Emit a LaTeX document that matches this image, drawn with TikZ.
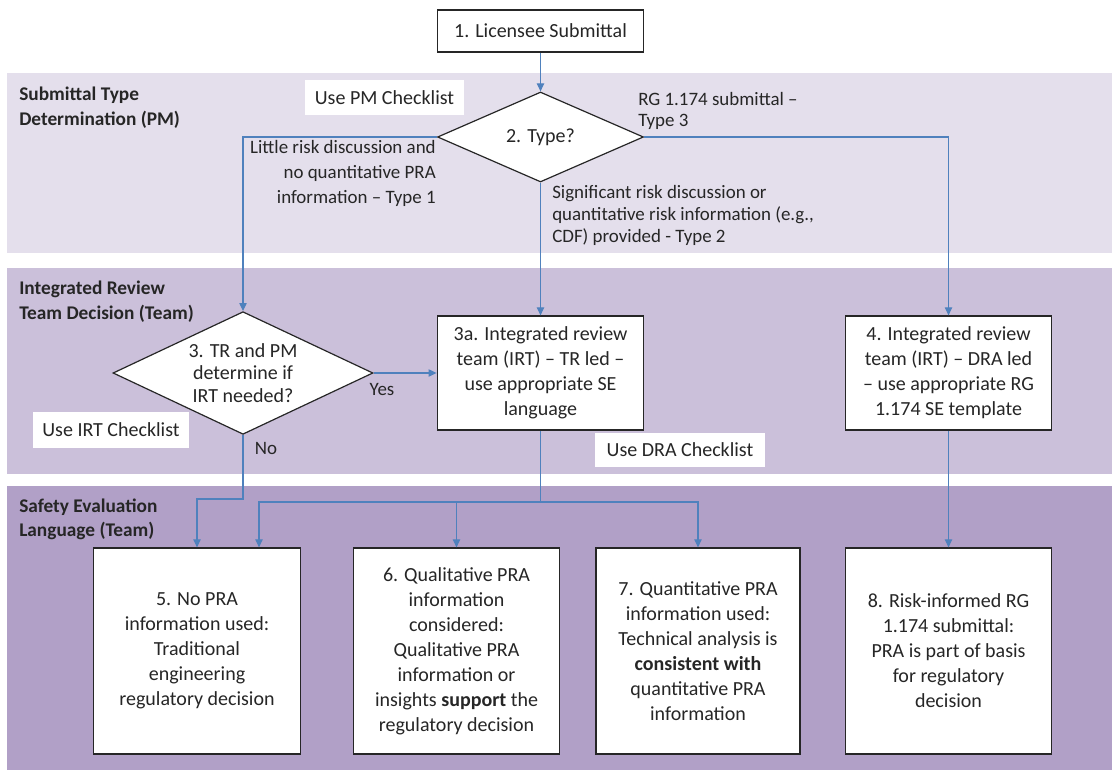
\documentclass[tikz,border=0pt]{standalone}
\usepackage{fontspec}
\setmainfont{Carlito}
\usetikzlibrary{shapes.geometric, arrows.meta, positioning}

\definecolor{laneA}{HTML}{E4DFEC}
\definecolor{laneB}{HTML}{CBC0DA}
\definecolor{laneC}{HTML}{B1A0C7}
\definecolor{flowblue}{HTML}{4F81BD}
\definecolor{ink}{HTML}{262626}

\begin{document}
\begin{tikzpicture}[x=0.75pt, y=-0.75pt,
    every node/.style={font=\fontsize{15}{18.75}\selectfont, text=ink},
    box/.style={draw=ink, line width=0.9pt, fill=white, align=center, inner sep=0pt, minimum width=155pt},
    decision/.style={diamond, draw=ink, line width=0.9pt, fill=white, align=center, inner sep=0pt, aspect=2},
    note/.style={fill=white, inner sep=0pt},
    branch/.style={font=\fontsize{14.2}{18.75}\selectfont, inner sep=0pt},
    lane/.style={font=\fontsize{14.5}{18.5}\selectfont\bfseries, align=left, anchor=west, inner sep=0pt},
    flow/.style={draw=flowblue, line width=0.8pt, -{Triangle[length=6pt, width=5.5pt]}}]

    \useasboundingbox (0,0) rectangle (1112,773);

    % Swim lanes
    \fill[laneA] (7,73) rectangle (1112,253);
    \fill[laneB] (7,268) rectangle (1112,474);
    \fill[laneC] (7,486) rectangle (1112,770);
    \node[lane] (lblA) at (19,107.5) {Submittal Type\\Determination (PM)};
    \node[lane] (lblB) at (19,301.5) {Integrated Review\\Team Decision (Team)};
    \node[lane] (lblC) at (19,519.5) {Safety Evaluation\\Language (Team)};

    % Submittal and type decision
    \node[box, minimum height=31.5pt] (sub) at (540.5,31) {1. Licensee Submittal};
    \node[decision, minimum width=154.5pt, minimum height=67.5pt] (type) at (540.5,137) {2. Type?};
    \node[note, minimum width=119pt, minimum height=26pt] (pmcheck) at (384.5,97.5) {Use PM Checklist};

    % Integrated review team decision
    \node[decision, minimum width=195pt, minimum height=92pt, font=\fontsize{15}{17}\selectfont] (irt) at (243,373) {3. TR and PM\\determine if\\IRT needed?};
    \node[box, minimum height=85.5pt] (irta) at (540.5,373) {3a. Integrated review\\team (IRT) -- TR led --\\use appropriate SE\\language};
    \node[box, minimum height=85.5pt] (irtb) at (948.5,373) {4. Integrated review\\team (IRT) -- DRA led\\-- use appropriate RG\\1.174 SE template};
    \node[note, minimum width=117pt, minimum height=27pt] (irtcheck) at (111,430) {Use IRT Checklist};
    \node[note, minimum width=127.5pt, minimum height=25.5pt] (dracheck) at (680,450) {Use DRA Checklist};

    % Safety evaluation language
    \node[box, minimum height=154.5pt] (se5) at (197,651) {5. No PRA\\information used:\\Traditional\\engineering\\regulatory decision};
    \node[box, minimum height=154.5pt] (se6) at (456.5,651) {6. Qualitative PRA\\information\\considered:\\Qualitative PRA\\information or\\insights \textbf{support} the\\regulatory decision};
    \node[box, minimum width=153pt, minimum height=154.5pt] (se7) at (698,651) {7. Quantitative PRA\\information used:\\Technical analysis is\\\textbf{consistent with}\\quantitative PRA\\information};
    \node[box, minimum width=154pt, minimum height=154.5pt] (se8) at (948.5,651) {8. Risk-informed RG\\1.174 submittal:\\PRA is part of basis\\for regulatory\\decision};

    % Branch labels
    \node[branch, align=right, anchor=east] (type1) at (436,173) {Little risk discussion and\\no quantitative PRA\\information -- Type 1};
    \node[branch, align=left, anchor=west, font=\fontsize{14.2}{16.5}\selectfont] (type2) at (552,215) {Significant risk discussion or\\quantitative risk information (e.g.,\\CDF) provided - Type 2};
    \node[branch, align=left, anchor=west, font=\fontsize{14.2}{16}\selectfont] (type3) at (638,111) {RG 1.174 submittal --\\Type 3};
    \node[branch] (yes) at (382,389) {Yes};
    \node[branch] (no) at (266,448) {No};

    % Connectors
    \coordinate (nobend) at (243,499);
    \coordinate (split) at (540.5,502);
    \draw[flow] (sub) -- (type);
    \draw[flow] (type.west) -| (irt.north);
    \draw[flow] (type) -- (irta);
    \draw[flow] (type.east) -| (irtb.north);
    \draw[flow] (irt) -- (irta);
    \draw[flow] (irtb) -- (se8);
    \draw[flow] (irt.south) -- (nobend) -| (se5.north);
    \draw[draw=flowblue, line width=0.8pt] (irta.south) -- (split);
    \draw[flow] (split) -| ([xshift=46.5pt]se5.north);
    \draw[flow] (split) -| (se6.north);
    \draw[flow] (split) -| (se7.north);
\end{tikzpicture}
\end{document}
